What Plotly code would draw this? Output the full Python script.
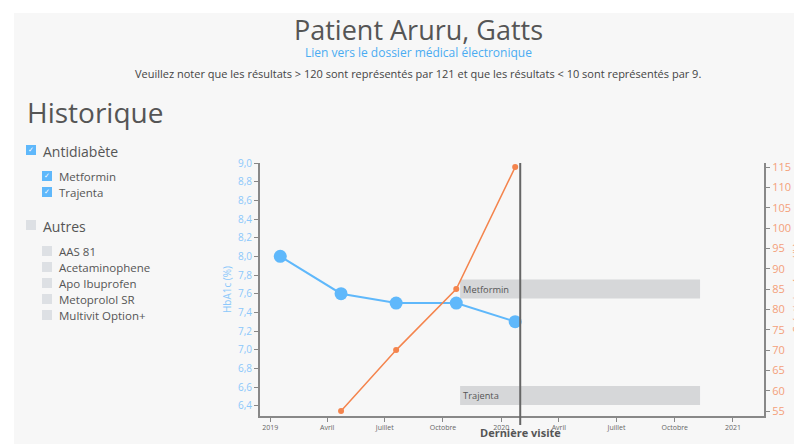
import plotly.graph_objects as go
import pandas as pd

# ---- data ----
hba1c_dates = ["2019-01-17", "2019-04-23", "2019-07-19", "2019-10-22", "2020-01-23"]
hba1c_values = [8.0, 7.6, 7.5, 7.5, 7.3]

lab_dates = ["2019-04-23", "2019-07-19", "2019-10-22", "2020-01-23"]
lab_values = [55, 70, 85, 115]

med_names = ["Metformin", "Trajenta"]
med_start = ["2019-10-28", "2019-10-28"]
med_end = ["2020-11-10", "2020-11-10"]
med_level = [7.65, 6.51]

last_visit = "2020-01-31"

tick_vals = ["2019-01-01", "2019-04-01", "2019-07-01", "2019-10-01", "2020-01-01",
             "2020-04-01", "2020-07-01", "2020-10-01", "2021-01-01"]
tick_text = ["2019", "Avril", "Juillet", "Octobre", "2020", "Avril", "Juillet", "Octobre", "2021"]

groups = [("Antidiabète", True, ["Metformin", "Trajenta"]),
          ("Autres", False, ["AAS 81", "Acetaminophene", "Apo Ibuprofen", "Metoprolol SR", "Multivit Option+"])]

# ---- layout geometry (window pixels; body margin removed via post_script) ----
W, H = 794, 444
L, R, T, B = 260, 764, 163, 416       # plot area in pixels
FONT = "Open Sans"
BLUE = "#5fb8fb"
ORANGE = "#f4844d"
PANEL = "#f7f7f7"


def px(x):
    return (x - L) / (R - L)


def py(y):
    return (B - y) / (B - T)


fig = go.Figure()

# medication bars
for name, s, e, lvl in zip(med_names, med_start, med_end, med_level):
    dur = (pd.Timestamp(e) - pd.Timestamp(s)).total_seconds() * 1000
    fig.add_trace(go.Bar(
        orientation="h", y=[lvl], x=[dur], base=[s], width=0.205,
        marker=dict(color="#d6d7d9", line=dict(width=0)),
        text=[name], textposition="inside", insidetextanchor="start",
        textfont=dict(family=FONT, size=12, color="#555"),
        hoverinfo="skip", showlegend=False, yaxis="y"))

fig.add_trace(go.Scatter(
    x=hba1c_dates, y=hba1c_values, mode="lines+markers",
    line=dict(color=BLUE, width=2), marker=dict(color=BLUE, size=13),
    showlegend=False, yaxis="y"))

fig.add_trace(go.Scatter(
    x=lab_dates, y=lab_values, mode="lines+markers",
    line=dict(color=ORANGE, width=1.5), marker=dict(color=ORANGE, size=6),
    showlegend=False, yaxis="y2"))

shapes = [
    dict(type="rect", xref="paper", yref="paper", x0=px(14), x1=px(W + 40),
         y0=py(H + 20), y1=py(13), fillcolor=PANEL, line=dict(width=0), layer="below"),
    dict(type="line", xref="x", yref="paper", x0=last_visit, x1=last_visit,
         y0=py(425), y1=1, line=dict(color="#666", width=2)),
]

annotations = [
    dict(text="Patient Aruru, Gatts", x=px(418), y=py(29), xref="paper", yref="paper",
         showarrow=False, font=dict(family=FONT, size=27, color="#555"), xanchor="center", yanchor="middle"),
    dict(text="Lien vers le dossier médical électronique", x=px(418), y=py(52), xref="paper", yref="paper",
         showarrow=False, font=dict(family=FONT, size=12, color="#4aacf2"), xanchor="center", yanchor="middle"),
    dict(text="Veuillez noter que les résultats > 120 sont représentés par 121 et que les résultats < 10 sont représentés par 9.",
         x=px(418), y=py(73), xref="paper", yref="paper",
         showarrow=False, font=dict(family=FONT, size=11, color="#444"), xanchor="center", yanchor="middle"),
    dict(text="Historique", x=px(25), y=py(112), xref="paper", yref="paper",
         showarrow=False, font=dict(family=FONT, size=28, color="#555"), xanchor="left", yanchor="middle"),
    dict(text="<b>Dernière visite</b>", x=last_visit, y=py(432), xref="x", yref="paper",
         showarrow=False, font=dict(family=FONT, size=11, color="#555"), xanchor="center", yanchor="middle"),
    dict(text="Créatinine (µmol/L)", x=px(797), y=py(289), xref="paper", yref="paper", textangle=-90,
         showarrow=False, font=dict(family=FONT, size=10, color="#f4a07a"), xanchor="center", yanchor="middle"),
]

# checkbox list
y_cur = 150
for gname, checked, items in groups:
    col = BLUE if checked else "#dde0e4"
    shapes.append(dict(type="rect", xref="paper", yref="paper", x0=px(26), x1=px(36),
                       y0=py(y_cur + 5), y1=py(y_cur - 5), fillcolor=col, line=dict(width=0)))
    if checked:
        annotations.append(dict(text="✓", x=px(31), y=py(y_cur), xref="paper", yref="paper", showarrow=False,
                                font=dict(family="DejaVu Sans", size=7, color="white"),
                                xanchor="center", yanchor="middle"))
    annotations.append(dict(text=gname, x=px(41), y=py(y_cur + 1), xref="paper", yref="paper", showarrow=False,
                            font=dict(family=FONT, size=14, color="#555"), xanchor="left", yanchor="middle"))
    iy = y_cur + 26
    for it in items:
        shapes.append(dict(type="rect", xref="paper", yref="paper", x0=px(42), x1=px(52),
                           y0=py(iy + 5), y1=py(iy - 5), fillcolor=col, line=dict(width=0)))
        if checked:
            annotations.append(dict(text="✓", x=px(47), y=py(iy), xref="paper", yref="paper", showarrow=False,
                                    font=dict(family="DejaVu Sans", size=7, color="white"),
                                    xanchor="center", yanchor="middle"))
        annotations.append(dict(text=it, x=px(57), y=py(iy), xref="paper", yref="paper", showarrow=False,
                                font=dict(family=FONT, size=11.5, color="#555"), xanchor="left", yanchor="middle"))
        iy += 16
    y_cur = 225

fig.update_layout(
    width=W, height=H, autosize=False,
    margin=dict(l=L, r=W - R, t=T, b=H - B, pad=0, autoexpand=False),
    paper_bgcolor="white", plot_bgcolor=PANEL,
    separators=", ",
    showlegend=False,
    barmode="overlay",
    font=dict(family=FONT),
    shapes=shapes, annotations=annotations,
    xaxis=dict(type="date", range=["2018-12-16", "2021-02-19"], tickvals=tick_vals, ticktext=tick_text,
               showgrid=False, zeroline=False, showline=True, linecolor="#888", linewidth=2,
               ticks="outside", ticklen=4, tickcolor="#888", tickwidth=1, automargin=False,
               tickfont=dict(family=FONT, size=7, color="#666")),
    yaxis=dict(range=[6.29, 9.0], dtick=0.2, tick0=6.4, tickformat=".1f", automargin=False,
               showgrid=False, zeroline=False, showline=True, linecolor="#888", linewidth=2,
               ticks="outside", ticklen=4, tickcolor="#888",
               tickfont=dict(family=FONT, size=10, color="#8cc8fb"),
               title=dict(text="HbA1c (%)", font=dict(family=FONT, size=10, color="#8cc8fb"), standoff=4)),
    yaxis2=dict(range=[53.8, 116], dtick=5, overlaying="y", side="right", anchor="x", automargin=False,
                showgrid=False, zeroline=False, showline=True, linecolor="#888", linewidth=2,
                ticks="outside", ticklen=4, tickcolor="#888",
                tickfont=dict(family=FONT, size=11, color="#f4a07a")),
)

fig.write_html("out.html", config={"displayModeBar": False},
               post_script="document.body.style.margin='0';document.body.style.overflow='hidden';")
